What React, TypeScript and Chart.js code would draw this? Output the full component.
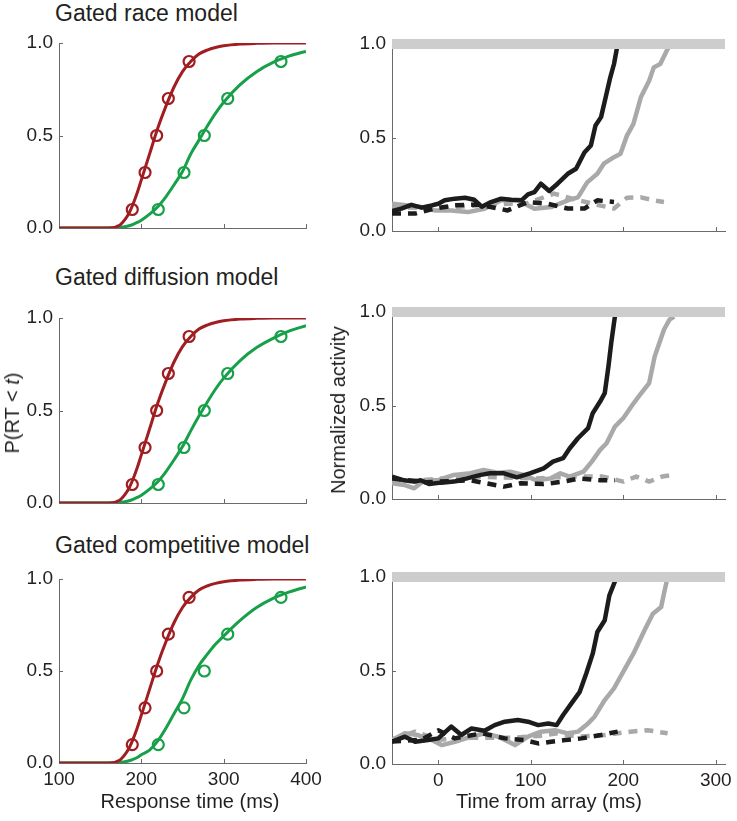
import React, { useEffect, useRef } from 'react';
import { Chart, registerables } from 'chart.js';
Chart.register(...registerables);

// ---------- Left column: cumulative RT distributions ----------
const quantileP = [0.1, 0.3, 0.5, 0.7, 0.9];
const redObsRT = [189, 204.5, 218.6, 232.8, 258];
const greenObsRT = [220.6, 251.8, 276.5, 304.9, 369.6];

const fitRT = [100, 150, 165, 170, 175, 180, 185, 190, 195, 200, 210, 220, 230, 240, 250, 260, 270, 280, 290, 300, 320, 340, 360, 380, 400];
const raceRedFit = [0, 0, 0.002, 0.008, 0.02, 0.045, 0.08, 0.13, 0.19, 0.26, 0.4, 0.54, 0.66, 0.765, 0.845, 0.9, 0.94, 0.962, 0.976, 0.985, 0.994, 0.998, 1, 1, 1];
const raceGreenFit = [0, 0, 0.001, 0.002, 0.004, 0.007, 0.012, 0.02, 0.03, 0.042, 0.075, 0.115, 0.17, 0.235, 0.305, 0.4, 0.475, 0.55, 0.62, 0.68, 0.775, 0.845, 0.895, 0.93, 0.955];
const diffRedFit = [0, 0, 0.002, 0.008, 0.02, 0.045, 0.08, 0.13, 0.19, 0.26, 0.4, 0.54, 0.66, 0.765, 0.845, 0.9, 0.94, 0.962, 0.976, 0.985, 0.994, 0.998, 1, 1, 1];
const diffGreenFit = [0, 0, 0.001, 0.002, 0.004, 0.007, 0.012, 0.02, 0.03, 0.042, 0.075, 0.115, 0.17, 0.235, 0.305, 0.39, 0.47, 0.545, 0.615, 0.675, 0.77, 0.84, 0.89, 0.93, 0.958];
const compRedFit = [0, 0, 0.002, 0.008, 0.02, 0.045, 0.08, 0.13, 0.19, 0.26, 0.4, 0.54, 0.66, 0.765, 0.845, 0.9, 0.94, 0.962, 0.976, 0.985, 0.994, 0.998, 1, 1, 1];
const compGreenFit = [0, 0, 0.001, 0.002, 0.004, 0.007, 0.012, 0.02, 0.03, 0.045, 0.07, 0.12, 0.19, 0.27, 0.35, 0.45, 0.53, 0.59, 0.645, 0.69, 0.775, 0.845, 0.895, 0.93, 0.957];

const rtTicks = [100, 200, 300, 400];
const probTicks = [0, 0.5, 1];

// ---------- Right column: normalized activity ----------
const timeTicks = [0, 100, 200, 300];

const raceBlackT = [-50, -40, -29, -18, -7, 0, 7, 18, 29, 39, 47, 57, 68, 79, 90, 97, 104, 111, 120, 129, 140, 149, 158, 165, 170, 176, 181, 186, 190, 194];
const raceBlackV = [0.107, 0.12, 0.14, 0.125, 0.137, 0.146, 0.164, 0.173, 0.178, 0.167, 0.13, 0.155, 0.173, 0.167, 0.164, 0.196, 0.208, 0.253, 0.214, 0.253, 0.306, 0.333, 0.42, 0.457, 0.564, 0.609, 0.715, 0.822, 0.893, 1.0];
const raceGrayT = [-50, -32, -18, -4, 14, 32, 50, 68, 86, 104, 122, 140, 151, 161, 172, 179, 190, 197, 204, 211, 219, 228, 233, 240, 247, 251];
const raceGrayV = [0.146, 0.137, 0.128, 0.11, 0.11, 0.101, 0.119, 0.165, 0.164, 0.119, 0.128, 0.164, 0.18, 0.26, 0.306, 0.36, 0.395, 0.413, 0.51, 0.573, 0.715, 0.804, 0.875, 0.893, 0.964, 1.0];
const raceBlackDashT = [-50, -25, -4, 18, 43, 75, 97, 118, 140, 158, 172, 190];
const raceBlackDashV = [0.093, 0.093, 0.12, 0.137, 0.142, 0.11, 0.155, 0.146, 0.12, 0.12, 0.164, 0.155];
const raceGrayDashT = [-50, -4, 50, 97, 125, 147, 172, 190, 204, 219, 233, 244];
const raceGrayDashV = [0.13, 0.12, 0.14, 0.15, 0.2, 0.17, 0.14, 0.12, 0.178, 0.18, 0.164, 0.155];

const diffBlackT = [-50, -37, -26, -19, -10, 3, 17, 31, 46, 56, 71, 85, 99, 114, 124, 135, 142, 151, 162, 167, 175, 180, 184, 187, 191, 192];
const diffBlackV = [0.12, 0.1, 0.093, 0.1, 0.08, 0.0875, 0.093, 0.11, 0.129, 0.1375, 0.1375, 0.116, 0.1375, 0.164, 0.2, 0.218, 0.27, 0.325, 0.379, 0.459, 0.521, 0.566, 0.709, 0.834, 0.977, 1.0];
const diffGrayT = [-50, -37, -26, -15, -1, 17, 35, 49, 64, 78, 92, 106, 121, 132, 142, 157, 166, 175, 182, 191, 200, 210, 218, 228, 234, 239, 244, 250, 255];
const diffGrayV = [0.084, 0.075, 0.057, 0.1, 0.1, 0.129, 0.1375, 0.155, 0.141, 0.146, 0.129, 0.1, 0.11, 0.1375, 0.12, 0.146, 0.2, 0.2625, 0.298, 0.3875, 0.432, 0.504, 0.557, 0.62, 0.7625, 0.834, 0.905, 0.959, 0.975];
const diffBlackDashT = [-50, -13, 35, 71, 89, 114, 135, 153, 175, 191];
const diffBlackDashV = [0.11, 0.09, 0.1, 0.066, 0.084, 0.08, 0.093, 0.11, 0.1, 0.1];
const diffGrayDashT = [-50, 35, 106, 142, 178, 200, 214, 228, 242, 255];
const diffGrayDashV = [0.09, 0.12, 0.11, 0.12, 0.12, 0.093, 0.12, 0.093, 0.12, 0.129];

const compBlackT = [-50, -36, -25, -11, 0, 14, 25, 36, 50, 61, 72, 86, 97, 108, 119, 128, 135, 144, 153, 160, 167, 172, 180, 185, 190, 193];
const compBlackV = [0.119, 0.146, 0.119, 0.128, 0.137, 0.2, 0.155, 0.19, 0.178, 0.208, 0.226, 0.235, 0.226, 0.208, 0.217, 0.208, 0.262, 0.324, 0.386, 0.484, 0.59, 0.706, 0.769, 0.902, 0.964, 1.0];
const compGrayT = [-50, -36, -22, -7, 4, 18, 36, 50, 65, 83, 97, 111, 126, 140, 151, 162, 169, 180, 190, 201, 212, 223, 232, 241, 244, 248];
const compGrayV = [0.128, 0.164, 0.155, 0.128, 0.101, 0.119, 0.146, 0.164, 0.146, 0.101, 0.146, 0.173, 0.181, 0.164, 0.173, 0.217, 0.253, 0.342, 0.404, 0.502, 0.6, 0.715, 0.804, 0.84, 0.911, 1.0];
const compBlackDashT = [-50, -18, 0, 18, 47, 72, 93, 108, 122, 137, 155, 176, 194];
const compBlackDashV = [0.12, 0.13, 0.18, 0.137, 0.164, 0.137, 0.128, 0.11, 0.119, 0.128, 0.137, 0.155, 0.173];
const compGrayDashT = [-50, -25, 0, 36, 79, 108, 129, 151, 180, 208, 226, 248];
const compGrayDashV = [0.13, 0.173, 0.13, 0.14, 0.14, 0.15, 0.164, 0.146, 0.155, 0.173, 0.181, 0.164];

const thresholdT = [-50, 310];
const thresholdV = [1, 1];

// ---------- styling ----------
const FONT = '"Liberation Sans", Arial, Helvetica, sans-serif';
const TEXT = '#231f20';
const AXIS = '#6a6a6a';
const RED = '#a01d21';
const GREEN = '#17a049';
const BLACK = '#1c1c1c';
const GRAY = '#a9a9a9';
const BAR = '#cdcdcd';

const PAD_TOP = 20;
const PAD_RIGHT = 28;
const Y_W = 55;
const X_H = 32;

type Box = { l: number; t: number; r: number; b: number };

const zip = (xs: number[], ys: number[]) => xs.map((x, i) => ({ x, y: ys[i] }));

const innerTicks = {
  id: 'innerTicks',
  beforeDatasetsDraw(chart: any) {
    const { ctx, chartArea: a, scales } = chart;
    ctx.save();
    ctx.strokeStyle = AXIS;
    ctx.lineWidth = 1;
    ctx.beginPath();
    for (const t of scales.x.ticks) {
      const px = Math.round(scales.x.getPixelForValue(t.value)) + 0.5;
      ctx.moveTo(px, a.bottom);
      ctx.lineTo(px, a.bottom - 4);
    }
    for (const t of scales.y.ticks) {
      const py = Math.round(scales.y.getPixelForValue(t.value)) + 0.5;
      ctx.moveTo(a.left, py);
      ctx.lineTo(a.left + 4, py);
    }
    ctx.stroke();
    ctx.restore();
  },
};

function axes(xmin: number, xmax: number, xTicks: number[], showX: boolean) {
  return {
    x: {
      type: 'linear',
      min: xmin,
      max: xmax,
      afterBuildTicks: (s: any) => {
        s.ticks = xTicks.map((v) => ({ value: v }));
      },
      afterFit: (s: any) => {
        s.height = X_H;
      },
      grid: { display: false, drawTicks: false, tickLength: 0 },
      border: { display: true, color: AXIS, width: 1 },
      ticks: {
        display: showX,
        color: TEXT,
        font: { family: FONT, size: 19 },
        padding: 5,
        maxRotation: 0,
        autoSkip: false,
        callback: (v: any) => String(v),
      },
    },
    y: {
      type: 'linear',
      min: 0,
      max: 1,
      afterBuildTicks: (s: any) => {
        s.ticks = probTicks.map((v) => ({ value: v }));
      },
      afterFit: (s: any) => {
        s.width = Y_W;
      },
      grid: { display: false, drawTicks: false, tickLength: 0 },
      border: { display: true, color: AXIS, width: 1 },
      ticks: {
        color: TEXT,
        font: { family: FONT, size: 19 },
        padding: 6,
        callback: (v: any) => Number(v).toFixed(1),
      },
    },
  };
}

function baseOptions(scales: any) {
  return {
    animation: false,
    responsive: false,
    maintainAspectRatio: false,
    events: [],
    layout: { padding: { top: PAD_TOP, right: PAD_RIGHT, left: 0, bottom: 0 } },
    plugins: { legend: { display: false }, tooltip: { enabled: false } },
    scales,
  };
}

function cdfConfig(redFit: number[], greenFit: number[], showX: boolean) {
  const circle = (color: string, xs: number[]) => ({
    data: zip(xs, quantileP),
    showLine: false,
    pointRadius: 5.5,
    pointBorderWidth: 2.2,
    pointBorderColor: color,
    pointBackgroundColor: 'rgba(0,0,0,0)',
    pointStyle: 'circle',
  });
  const curve = (color: string, ys: number[]) => ({
    data: zip(fitRT, ys),
    borderColor: color,
    borderWidth: 3,
    pointRadius: 0,
    cubicInterpolationMode: 'monotone',
    fill: false,
  });
  return {
    type: 'line',
    data: {
      datasets: [circle(RED, redObsRT), circle(GREEN, greenObsRT), curve(RED, redFit), curve(GREEN, greenFit)],
    },
    options: baseOptions(axes(100, 400, rtTicks, showX)),
    plugins: [innerTicks],
  };
}

function activityConfig(
  bT: number[], bV: number[], gT: number[], gV: number[],
  bdT: number[], bdV: number[], gdT: number[], gdV: number[], showX: boolean,
) {
  const trace = (color: string, xs: number[], ys: number[], dashed: boolean) => ({
    data: zip(xs, ys),
    borderColor: color,
    borderWidth: 4.5,
    borderDash: dashed ? [9, 7] : [],
    borderJoinStyle: 'round',
    pointRadius: 0,
    tension: 0,
    fill: false,
  });
  return {
    type: 'line',
    data: {
      datasets: [
        { data: zip(thresholdT, thresholdV), borderColor: BAR, borderWidth: 10, pointRadius: 0, clip: false, fill: false },
        trace(BLACK, bT, bV, false),
        trace(BLACK, bdT, bdV, true),
        trace(GRAY, gT, gV, false),
        trace(GRAY, gdT, gdV, true),
      ],
    },
    options: baseOptions(axes(-50, 310, timeTicks, showX)),
    plugins: [innerTicks],
  };
}

function Panel({ box, build }: { box: Box; build: () => any }) {
  const ref = useRef<HTMLCanvasElement>(null);
  const w = box.r - box.l + Y_W + PAD_RIGHT;
  const h = box.b - box.t + PAD_TOP + X_H;
  useEffect(() => {
    const chart = new Chart(ref.current as HTMLCanvasElement, build());
    return () => chart.destroy();
  }, []);
  return (
    <canvas
      ref={ref}
      width={w}
      height={h}
      style={{ position: 'absolute', left: box.l - Y_W, top: box.t - PAD_TOP, width: w, height: h }}
    />
  );
}

const txt: React.CSSProperties = {
  position: 'absolute',
  fontFamily: FONT,
  color: TEXT,
  whiteSpace: 'nowrap',
};

export default function App() {
  const L = { l: 59, r: 306 };
  const R = { l: 392, r: 725 };
  return (
    <div style={{ position: 'absolute', left: 0, top: 0, width: 737, height: 821, background: '#fff', overflow: 'hidden' }}>
      <div style={{ ...txt, left: 55, top: 2, fontSize: 23, lineHeight: '23px' }}>Gated race model</div>
      <div style={{ ...txt, left: 55, top: 266, fontSize: 23, lineHeight: '23px' }}>Gated diffusion model</div>
      <div style={{ ...txt, left: 55, top: 534, fontSize: 23, lineHeight: '23px' }}>Gated competitive model</div>

      <Panel box={{ ...L, t: 43, b: 228 }} build={() => cdfConfig(raceRedFit, raceGreenFit, false)} />
      <Panel box={{ ...L, t: 318, b: 503 }} build={() => cdfConfig(diffRedFit, diffGreenFit, false)} />
      <Panel box={{ ...L, t: 579, b: 763 }} build={() => cdfConfig(compRedFit, compGreenFit, true)} />

      <Panel
        box={{ ...R, t: 44, b: 231 }}
        build={() => activityConfig(raceBlackT, raceBlackV, raceGrayT, raceGrayV, raceBlackDashT, raceBlackDashV, raceGrayDashT, raceGrayDashV, false)}
      />
      <Panel
        box={{ ...R, t: 312, b: 499 }}
        build={() => activityConfig(diffBlackT, diffBlackV, diffGrayT, diffGrayV, diffBlackDashT, diffBlackDashV, diffGrayDashT, diffGrayDashV, false)}
      />
      <Panel
        box={{ ...R, t: 577, b: 764 }}
        build={() => activityConfig(compBlackT, compBlackV, compGrayT, compGrayV, compBlackDashT, compBlackDashV, compGrayDashT, compGrayDashV, true)}
      />

      <div style={{ ...txt, left: 12, top: 413, fontSize: 20, lineHeight: '20px', transform: 'translate(-50%, -50%) rotate(-90deg)' }}>
        P(RT &lt; <i>t</i>)
      </div>
      <div style={{ ...txt, left: 338, top: 410, fontSize: 20, lineHeight: '20px', transform: 'translate(-50%, -50%) rotate(-90deg)' }}>
        Normalized activity
      </div>
      <div style={{ ...txt, left: 190, top: 801, fontSize: 20, lineHeight: '20px', transform: 'translate(-50%, -50%)' }}>
        Response time (ms)
      </div>
      <div style={{ ...txt, left: 549, top: 801, fontSize: 20, lineHeight: '20px', transform: 'translate(-50%, -50%)' }}>
        Time from array (ms)
      </div>
    </div>
  );
}
